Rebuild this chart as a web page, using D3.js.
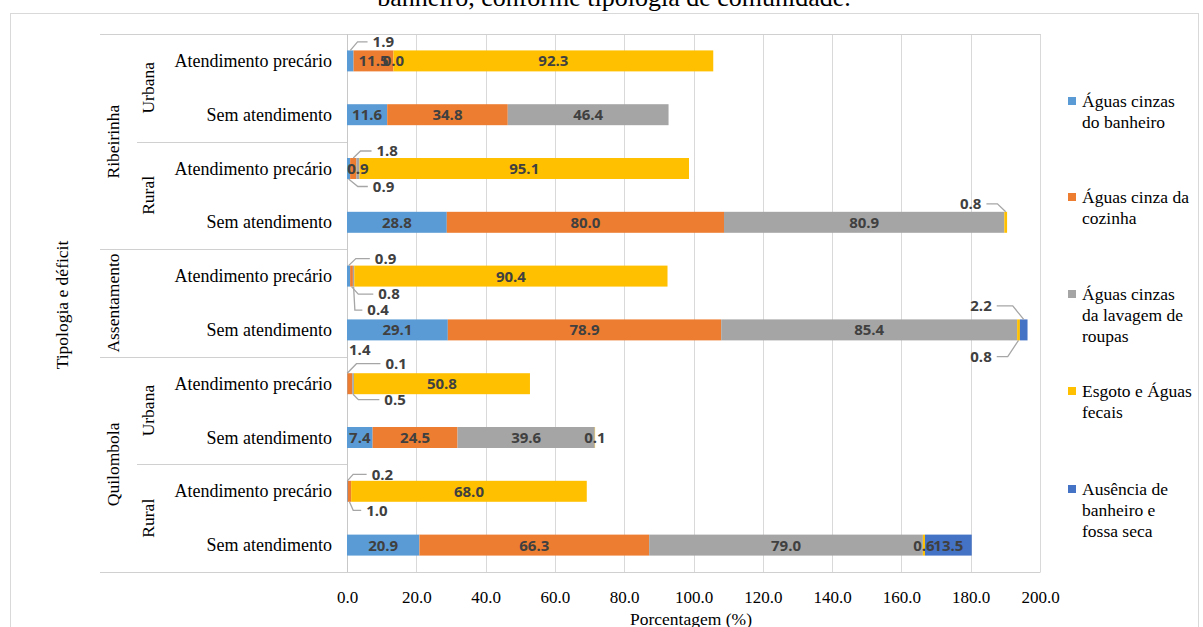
<!DOCTYPE html>
<html lang="pt">
<head>
<meta charset="utf-8">
<script src="https://cdn.jsdelivr.net/npm/d3@7"></script>
<style>
  html, body { margin: 0; padding: 0; background: #fff; overflow: hidden; }
  svg { display: block; }
  .serif { font-family: "Liberation Serif", "Times New Roman", serif; fill: #000; }
  .lbl { font-family: "Open Sans", "Noto Sans", sans-serif; font-weight: 700; fill: #404040; }
</style>
</head>
<body>
<svg id="chart" width="1203" height="627"></svg>
<script>
// ---- Data -----------------------------------------------------------
const deficit = ["Atendimento precário", "Sem atendimento", "Atendimento precário", "Sem atendimento",
                 "Atendimento precário", "Sem atendimento", "Atendimento precário", "Sem atendimento",
                 "Atendimento precário", "Sem atendimento"];
const setting = ["Urbana", "Urbana", "Rural", "Rural", "", "", "Urbana", "Urbana", "Rural", "Rural"];
const typology = ["Ribeirinha", "Ribeirinha", "Ribeirinha", "Ribeirinha", "Assentamento", "Assentamento",
                  "Quilombola", "Quilombola", "Quilombola", "Quilombola"];

const bathroomGrey = [1.9, 11.6, 0.9, 28.8, 0.9, 29.1, 0.1, 7.4, 0.2, 20.9];
const kitchenGrey  = [11.5, 34.8, 1.8, 80.0, 0.8, 78.9, 1.4, 24.5, 1.0, 66.3];
const laundryGrey  = [0.0, 46.4, 0.9, 80.9, 0.4, 85.4, 0.5, 39.6, null, 79.0];
const sewage       = [92.3, null, 95.1, 0.8, 90.4, 0.8, 50.8, 0.1, 68.0, 0.6];
const noBathroom   = [null, null, null, null, null, 2.2, null, null, null, 13.5];

const seriesNames = [
  ["Águas cinzas", "do banheiro"],
  ["Águas cinza da", "cozinha"],
  ["Águas cinzas", "da lavagem de", "roupas"],
  ["Esgoto e Águas", "fecais"],
  ["Ausência de", "banheiro e", "fossa seca"]
];
const seriesColors = ["#5B9BD5", "#ED7D31", "#A5A5A5", "#FFC000", "#4472C4"];
const xTicks = [0, 20, 40, 60, 80, 100, 120, 140, 160, 180, 200];

// Labels of thin segments that sit outside the bar, with a leader line
// (row, series, bar edge, label offset from the anchor, horizontal leader length)
const callouts = [
  { row: 0, s: 0, edge: "top",    dx: 33,  dy: -8.5, h: 10 },
  { row: 2, s: 1, edge: "top",    dx: 34,  dy: -7,   h: 11 },
  { row: 2, s: 0, edge: "bottom", dx: 35,  dy: 7.5,  h: 10 },
  { row: 3, s: 3, edge: "top",    dx: -35, dy: -8,   h: 11 },
  { row: 4, s: 0, edge: "top",    dx: 37,  dy: -7,   h: 14 },
  { row: 4, s: 1, edge: "bottom", dx: 37.5, dy: 7.5, h: 15 },
  { row: 4, s: 2, edge: "bottom", dx: 24.5, dy: 23.5, h: 7.5 },
  { row: 5, s: 4, edge: "top",    dx: -42.7, dy: -13.5, h: 16 },
  { row: 5, s: 3, edge: "bottom", dx: -37.5, dy: 16.2, h: 11 },
  { row: 6, s: 1, edge: "top",    dx: 10,  dy: -24,  h: 0 },
  { row: 6, s: 0, edge: "top",    dx: 49,  dy: -9.5, h: 24 },
  { row: 6, s: 2, edge: "bottom", dx: 42,  dy: 5.5,  h: 21 },
  { row: 8, s: 0, edge: "top",    dx: 35,  dy: -6.5, h: 13.5 },
  { row: 8, s: 1, edge: "bottom", dx: 27.5, dy: 8.5, h: 8 }
];

// ---- Layout -----------------------------------------------------------
const svg = d3.select("#chart");
const plot = { left: 347, right: 1040, top: 34, bottom: 572 };
const tableLeft = 100, subLeft = 137;

const x = d3.scaleLinear().domain([0, 200]).range([plot.left, plot.right]);
const rows = d3.range(deficit.length);
const y = d3.scaleBand().domain(rows).range([plot.top, plot.bottom])
  .paddingInner(0.61).paddingOuter(0.305);

const series = [bathroomGrey, kitchenGrey, laundryGrey, sewage, noBathroom];

// outer frame
svg.append("rect").attr("x", 10.5).attr("y", 13.5).attr("width", 1188).attr("height", 630)
  .attr("fill", "none").attr("stroke", "#d9d9d9").attr("stroke-width", 1);

// title (its first line lies above the visible area)
svg.append("text").attr("class", "serif").attr("x", 614).attr("y", 6)
  .attr("text-anchor", "middle").style("font-size", "26px")
  .text("banheiro, conforme tipologia de comunidade.");

// gridlines
svg.append("g").selectAll("line").data(xTicks.slice(1)).join("line")
  .attr("x1", d => Math.round(x(d)) + 0.5).attr("x2", d => Math.round(x(d)) + 0.5)
  .attr("y1", plot.top).attr("y2", plot.bottom)
  .attr("stroke", "#d9d9d9").attr("stroke-width", 1);

// horizontal frame lines of the plot and category table
svg.append("line").attr("x1", tableLeft).attr("x2", plot.right + 0.5)
  .attr("y1", plot.top + 0.5).attr("y2", plot.top + 0.5).attr("stroke", "#d0d0d0");
svg.append("line").attr("x1", tableLeft).attr("x2", plot.right + 0.5)
  .attr("y1", plot.bottom + 0.5).attr("y2", plot.bottom + 0.5).attr("stroke", "#d0d0d0");

// category axis line
svg.append("line").attr("x1", plot.left + 0.5).attr("x2", plot.left + 0.5)
  .attr("y1", plot.top).attr("y2", plot.bottom).attr("stroke", "#c8c8c8");

// group separators in the category table
const step = y.step();
function boundary(i) { return plot.top + i * step; }
const groupBreaks = [];
for (let i = 1; i < rows.length; i++) {
  if (typology[i] !== typology[i - 1]) groupBreaks.push({ i, left: tableLeft });
  else if (setting[i] !== setting[i - 1]) groupBreaks.push({ i, left: subLeft });
}
svg.append("g").selectAll("line").data(groupBreaks).join("line")
  .attr("x1", d => d.left).attr("x2", plot.left)
  .attr("y1", d => Math.round(boundary(d.i)) + 0.5).attr("y2", d => Math.round(boundary(d.i)) + 0.5)
  .attr("stroke", "#d0d0d0");

// level 3 labels
svg.append("g").selectAll("text").data(rows).join("text")
  .attr("class", "serif").style("font-size", "18px")
  .attr("x", 332).attr("y", i => y(i) + y.bandwidth() / 2 + 6)
  .attr("text-anchor", "end").text(i => deficit[i]);

// spans of consecutive equal values
function spans(arr) {
  const out = [];
  let start = 0;
  for (let i = 1; i <= arr.length; i++) {
    if (i === arr.length || arr[i] !== arr[start] || (arr === setting && typology[i] !== typology[start])) {
      if (arr[start]) out.push({ name: arr[start], a: start, b: i });
      start = i;
    }
  }
  return out;
}
function rotLabel(g, list, cx) {
  g.selectAll("text").data(list).join("text")
    .attr("class", "serif").style("font-size", "17.5px")
    .attr("text-anchor", "middle")
    .attr("transform", d => `translate(${cx},${(boundary(d.a) + boundary(d.b)) / 2}) rotate(-90)`)
    .attr("dy", "0.33em")
    .text(d => d.name);
}
rotLabel(svg.append("g"), spans(setting), 148);
rotLabel(svg.append("g"), spans(typology), 113);

// axis titles
svg.append("text").attr("class", "serif").style("font-size", "17.5px")
  .attr("text-anchor", "middle")
  .attr("transform", `translate(62,${(plot.top + plot.bottom) / 2 + 2}) rotate(-90)`)
  .attr("dy", "0.33em").text("Tipologia e déficit");
svg.append("text").attr("class", "serif").style("font-size", "17.5px")
  .attr("text-anchor", "middle").attr("x", 691).attr("y", 625).text("Porcentagem (%)");

// x tick labels
const xAxis = svg.append("g").attr("transform", `translate(0,${plot.bottom})`)
  .call(d3.axisBottom(x).tickValues(xTicks).tickFormat(d3.format(".1f")).tickSize(0).tickPadding(19));
xAxis.select(".domain").remove();
xAxis.selectAll("text").attr("class", "serif").attr("fill", "#000")
  .style("font-size", "17px").style("font-family", "Liberation Serif, serif");

// ---- Stacked bars ---------------------------------------------------------
const segs = [];
rows.forEach(r => {
  let acc = 0;
  series.forEach((arr, s) => {
    const v = arr[r];
    if (v === null || v === undefined) return;
    segs.push({ r, s, v, x0: acc, x1: acc + v });
    acc += v;
  });
});

svg.append("g").selectAll("rect").data(segs).join("rect")
  .attr("x", d => x(d.x0)).attr("width", d => Math.max(0, x(d.x1) - x(d.x0)))
  .attr("y", d => y(d.r)).attr("height", y.bandwidth())
  .attr("fill", d => seriesColors[d.s]);

// ---- Data labels -----------------------------------------------------------
const fmt = d3.format(".1f");
const labelSize = "15px";
const isCallout = d => callouts.some(c => c.row === d.r && c.s === d.s);
const labels = svg.append("g");
labels.selectAll("text.inl").data(segs.filter(d => !isCallout(d))).join("text")
  .attr("class", "lbl inl").style("font-size", labelSize)
  .attr("x", d => x((d.x0 + d.x1) / 2)).attr("y", d => y(d.r) + y.bandwidth() / 2)
  .attr("dy", "0.36em").attr("text-anchor", "middle").text(d => fmt(d.v));

callouts.forEach(c => {
  const d = segs.find(e => e.r === c.row && e.s === c.s);
  const ax = x((d.x0 + d.x1) / 2);
  const ay = c.edge === "top" ? y(d.r) : y(d.r) + y.bandwidth();
  const lx = ax + c.dx, ly = ay + c.dy;
  const t = labels.append("text").attr("class", "lbl").style("font-size", labelSize)
    .attr("x", lx).attr("y", ly).attr("dy", "0.36em").attr("text-anchor", "middle").text(fmt(d.v));
  if (c.h > 0) {
    const half = t.node().getComputedTextLength() / 2;
    const sign = c.dx > 0 ? 1 : -1;
    const end = lx - sign * (half + 5);
    const elbow = end - sign * c.h;
    labels.append("path")
      .attr("d", d3.line()([[ax, ay], [elbow, ly], [end, ly]]))
      .attr("fill", "none").attr("stroke", "#a6a6a6").attr("stroke-width", 1.3);
  }
});

// ---- Legend -----------------------------------------------------------
const legendTops = [101, 197, 294, 391, 489];
const legend = svg.append("g");
seriesNames.forEach((lines, i) => {
  legend.append("rect").attr("x", 1068).attr("y", legendTops[i] - 4).attr("width", 8).attr("height", 8)
    .attr("fill", seriesColors[i]);
  const t = legend.append("text").attr("class", "serif").style("font-size", "17.5px")
    .attr("x", 1082).attr("y", legendTops[i] + 6);
  lines.forEach((ln, k) => t.append("tspan").attr("x", 1082).attr("dy", k === 0 ? 0 : 21).text(ln));
});
</script>
</body>
</html>
